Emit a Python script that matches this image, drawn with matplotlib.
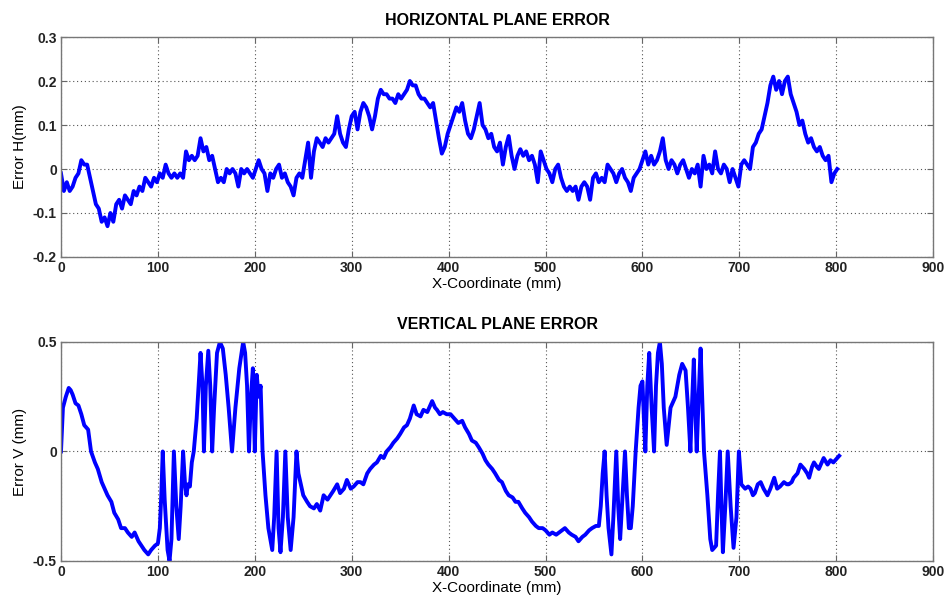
import matplotlib
matplotlib.use("Agg")
import matplotlib.pyplot as plt

plt.rcParams["font.family"] = ["Liberation Sans", "DejaVu Sans"]

# horizontal plane error (mm), sampled every 3 mm from 0 to 801 mm
h_x = list(range(0, 802, 3))
h_err = [-0.01, -0.05, -0.03, -0.05, -0.04, -0.02, -0.01, 0.02, 0.01, 0.01,
         -0.02, -0.05, -0.08, -0.09, -0.12, -0.11, -0.13, -0.1, -0.12, -0.08,
         -0.07, -0.09, -0.06, -0.07, -0.08, -0.05, -0.06, -0.04, -0.05, -0.02,
         -0.03, -0.04, -0.02, -0.03, -0.01, -0.02, 0.01, -0.01, -0.02, -0.01,
         -0.02, -0.01, -0.02, 0.04, 0.02, 0.03, 0.02, 0.03, 0.07, 0.04,
         0.05, 0.02, 0.03, 0.0, -0.03, -0.02, -0.03, 0.0, -0.01, 0.0,
         -0.01, -0.04, 0.0, -0.01, 0.0, -0.01, -0.02, 0.0, 0.02, 0.0,
         -0.01, -0.05, -0.01, -0.02, 0.0, 0.01, -0.02, -0.01, -0.03, -0.04,
         -0.06, -0.02, -0.01, -0.02, 0.02, 0.06, -0.02, 0.04, 0.07, 0.06,
         0.05, 0.07, 0.06, 0.07, 0.08, 0.12, 0.08, 0.06, 0.05, 0.09,
         0.12, 0.13, 0.09, 0.13, 0.15, 0.14, 0.12, 0.09, 0.12, 0.16,
         0.18, 0.17, 0.17, 0.16, 0.16, 0.15, 0.17, 0.16, 0.17, 0.18,
         0.2, 0.19, 0.19, 0.17, 0.16, 0.16, 0.15, 0.14, 0.15, 0.11,
         0.07, 0.035, 0.05, 0.08, 0.1, 0.12, 0.14, 0.13, 0.15, 0.11,
         0.08, 0.07, 0.09, 0.12, 0.15, 0.1, 0.09, 0.07, 0.08, 0.05,
         0.04, 0.06, 0.01, 0.05, 0.075, 0.03, 0.0, 0.03, 0.045, 0.03,
         0.04, 0.02, 0.03, 0.01, -0.03, 0.04, 0.02, 0.0, -0.01, -0.03,
         0.0, 0.01, -0.02, -0.04, -0.05, -0.04, -0.05, -0.04, -0.07, -0.04,
         -0.03, -0.04, -0.07, -0.02, -0.01, -0.03, -0.02, -0.03, 0.01, 0.0,
         -0.01, -0.03, -0.01, 0.0, -0.02, -0.03, -0.05, -0.02, -0.01, 0.0,
         0.02, 0.04, 0.01, 0.03, 0.01, 0.02, 0.04, 0.07, 0.02, 0.0,
         0.02, 0.01, -0.01, 0.01, 0.02, 0.0, -0.02, 0.0, -0.01, 0.01,
         -0.04, 0.03, 0.0, 0.01, -0.01, 0.04, 0.0, -0.01, 0.01, 0.0,
         -0.03, 0.0, -0.02, -0.04, 0.01, 0.02, 0.01, 0.0, 0.05, 0.06,
         0.08, 0.09, 0.12, 0.15, 0.19, 0.21, 0.18, 0.2, 0.17, 0.2,
         0.21, 0.17, 0.15, 0.13, 0.1, 0.11, 0.08, 0.06, 0.07, 0.05,
         0.04, 0.05, 0.03, 0.02, 0.03, -0.03, -0.01, 0.0]

# vertical plane error (mm) vs x-coordinate (mm)
v_x = [0, 1, 2, 5, 8, 10, 12, 15, 18, 21, 24, 28, 31, 35, 38, 42, 45, 48, 52, 55, 59,
       62, 66, 69, 73, 76, 80, 83, 86, 90, 93, 97, 100, 102, 103.5, 105, 107, 110, 112,
       114, 116.5, 119, 121.5, 123.5, 126, 128, 129.5, 131, 133, 135, 137, 140, 142, 144,
       146, 147.5, 149.5, 152, 154, 156, 158, 161, 164, 167, 170, 173, 176.5, 180, 184,
       188, 190, 192, 194, 196, 198, 200, 202, 204, 206, 208, 211, 214, 218, 220, 222.5,
       224.5, 226.5, 229, 231.5, 234, 237, 240, 243, 245, 247, 250, 254, 257, 261, 264,
       267.5, 271, 275, 278, 281, 285, 288, 292, 295, 299, 302, 306, 309, 312, 316, 319,
       323, 326, 330, 333, 336, 340, 343, 347, 350, 354, 357, 360, 364, 367, 371, 374,
       378, 383, 386, 388, 391, 394, 398, 402, 406, 410, 414, 417, 421, 424, 428, 431,
       435, 438, 441, 445, 448, 452, 455, 459, 462, 466, 469, 472, 476, 479, 483, 486,
       490, 493, 497, 500, 504, 507, 511, 514, 517, 520, 524, 527, 531, 534, 538, 541,
       545, 548, 552, 555, 557, 559, 561, 563, 565, 568, 570, 573, 575, 577, 579.5, 582,
       584, 586, 588, 590, 593, 596, 598, 600, 601.5, 603, 605, 607, 609.5, 612, 614,
       616, 618, 620, 622, 625, 629, 634, 638, 641, 644.5, 647, 649.5, 651, 653, 654.5,
       656, 658, 660, 662, 663.5, 667, 670, 672, 676, 678, 680, 681.5, 683, 685.5, 688,
       691, 694, 697, 699.5, 702, 706, 709, 711.5, 714, 716, 719, 722, 725, 729, 732,
       736, 739, 742, 746, 749, 751, 754, 756, 760, 763, 767, 770, 772, 775, 777, 780,
       782, 785, 787, 791, 794, 797, 801, 803]
v_err = [0.0, 0.1, 0.2, 0.25, 0.29, 0.28, 0.26, 0.22, 0.21, 0.17, 0.12, 0.1, 0.0, -0.05,
         -0.08, -0.14, -0.17, -0.2, -0.23, -0.28, -0.31, -0.35, -0.35, -0.37, -0.39, -0.37,
         -0.41, -0.43, -0.45, -0.47, -0.45, -0.43, -0.42, -0.35, -0.2, 0.0, -0.22, -0.45,
         -0.5, -0.4, 0.0, -0.25, -0.4, -0.25, 0.0, -0.15, -0.2, -0.15, -0.16, -0.05, 0.0,
         0.15, 0.3, 0.45, 0.3, 0.0, 0.3, 0.46, 0.3, 0.0, 0.2, 0.45, 0.5, 0.47, 0.35, 0.2,
         0.0, 0.2, 0.38, 0.5, 0.45, 0.3, 0.0, 0.25, 0.38, 0.0, 0.35, 0.25, 0.3, 0.0, -0.2,
         -0.35, -0.45, -0.3, 0.0, -0.35, -0.46, -0.3, 0.0, -0.3, -0.45, -0.3, 0.0, -0.1,
         -0.14, -0.2, -0.23, -0.25, -0.26, -0.24, -0.27, -0.2, -0.22, -0.2, -0.18, -0.15,
         -0.19, -0.17, -0.13, -0.17, -0.16, -0.14, -0.14, -0.15, -0.1, -0.08, -0.06, -0.05,
         -0.02, -0.03, 0.0, 0.02, 0.04, 0.06, 0.08, 0.11, 0.12, 0.15, 0.21, 0.17, 0.16,
         0.19, 0.18, 0.23, 0.2, 0.19, 0.17, 0.18, 0.17, 0.17, 0.15, 0.13, 0.14, 0.11, 0.08,
         0.05, 0.04, 0.02, -0.01, -0.04, -0.06, -0.08, -0.1, -0.13, -0.14, -0.18, -0.2,
         -0.21, -0.23, -0.23, -0.26, -0.28, -0.3, -0.32, -0.34, -0.35, -0.35, -0.36, -0.38,
         -0.37, -0.38, -0.37, -0.36, -0.35, -0.37, -0.38, -0.39, -0.41, -0.39, -0.38,
         -0.36, -0.35, -0.34, -0.34, -0.25, -0.1, 0.0, -0.2, -0.35, -0.47, -0.3, 0.0,
         -0.25, -0.4, -0.2, 0.0, -0.2, -0.35, -0.35, -0.25, 0.0, 0.2, 0.3, 0.32, 0.15, 0.0,
         0.3, 0.45, 0.2, 0.0, 0.3, 0.45, 0.5, 0.4, 0.2, 0.03, 0.2, 0.25, 0.35, 0.4, 0.37,
         0.2, 0.0, 0.2, 0.42, 0.2, 0.0, 0.25, 0.47, 0.2, 0.0, -0.2, -0.4, -0.45, -0.43,
         -0.2, 0.0, -0.25, -0.46, -0.25, 0.0, -0.25, -0.44, -0.3, 0.0, -0.15, -0.17, -0.16,
         -0.17, -0.2, -0.19, -0.15, -0.14, -0.17, -0.2, -0.17, -0.12, -0.17, -0.16, -0.14,
         -0.15, -0.15, -0.14, -0.12, -0.1, -0.06, -0.08, -0.1, -0.12, -0.07, -0.05, -0.07,
         -0.08, -0.05, -0.03, -0.06, -0.04, -0.05, -0.03, -0.02]

x_ticks = [0, 100, 200, 300, 400, 500, 600, 700, 800, 900]
h_ticks = [-0.2, -0.1, 0, 0.1, 0.2, 0.3]
h_labels = ["-0.2", "-0.1", "0", "0.1", "0.2", "0.3"]
v_ticks = [-0.5, 0, 0.5]
v_labels = ["-0.5", "0", "0.5"]


def style(ax):
    ax.set_xlim(0, 900)
    ax.set_xticks(x_ticks)
    ax.grid(True, color="#555555", linestyle=(0, (1, 2.5)), linewidth=0.8)
    ax.tick_params(direction="in", top=True, right=True, length=4, width=0.8,
                   color="#666666", labelsize=10, pad=3)
    for lab in ax.get_xticklabels() + ax.get_yticklabels():
        lab.set_fontweight("bold")
        lab.set_color("#222222")
    for s in ax.spines.values():
        s.set_color("#777777")
        s.set_linewidth(1.0)
    ax.set_axisbelow(True)


fig = plt.figure(figsize=(9.47, 6.01), dpi=100)

ax1 = fig.add_axes([0.0644, 0.5724, 0.921, 0.366])
ax1.plot(h_x, h_err, color="#0000ff", linewidth=2.8)
ax1.set_ylim(-0.2, 0.3)
ax1.set_yticks(h_ticks)
ax1.set_yticklabels(h_labels)
style(ax1)
ax1.set_title("HORIZONTAL PLANE ERROR", fontsize=11.5, fontweight="bold", pad=9)
ax1.set_xlabel("X-Coordinate (mm)", fontsize=11, labelpad=1)
ax1.set_ylabel("Error H(mm)", fontsize=11, labelpad=4)

ax2 = fig.add_axes([0.0644, 0.0666, 0.921, 0.3644])
ax2.plot(v_x, v_err, color="#0000ff", linewidth=2.8)
ax2.set_ylim(-0.5, 0.5)
ax2.set_yticks(v_ticks)
ax2.set_yticklabels(v_labels)
style(ax2)
ax2.set_title("VERTICAL PLANE ERROR", fontsize=11.5, fontweight="bold", pad=9)
ax2.set_xlabel("X-Coordinate (mm)", fontsize=11, labelpad=1)
ax2.set_ylabel("Error V (mm)", fontsize=11, labelpad=4)

fig.savefig("out.png", dpi=100)
